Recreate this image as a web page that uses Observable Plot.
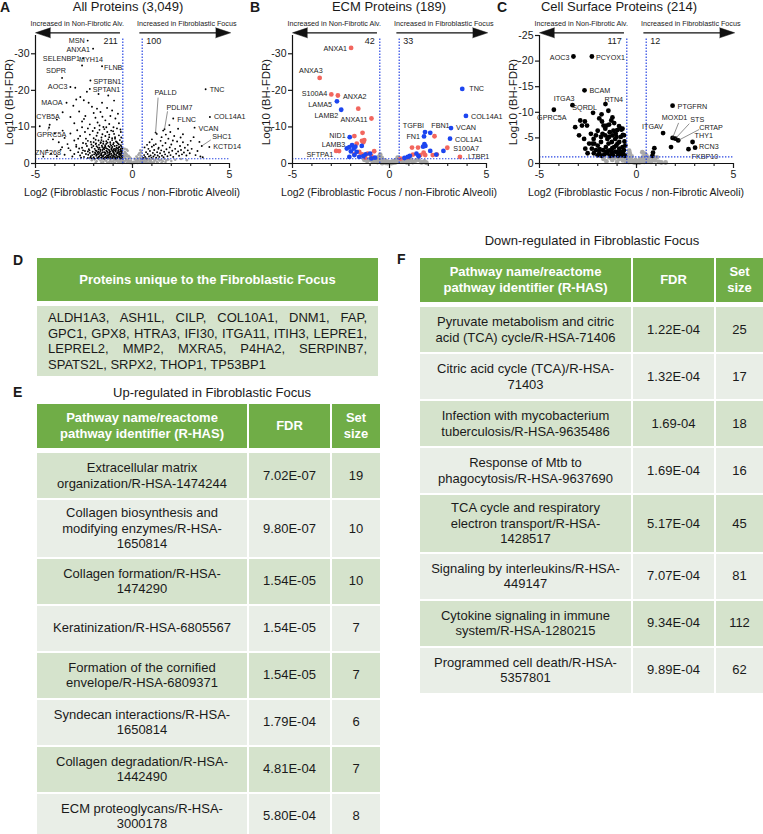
<!DOCTYPE html>
<html><head><meta charset="utf-8">
<script src="https://cdn.jsdelivr.net/npm/d3@7"></script>
<script src="https://cdn.jsdelivr.net/npm/@observablehq/plot@0.6"></script>
<style>
body{margin:0;background:#fff;font-family:"Liberation Sans",Arial,sans-serif;color:#1a1a1a}
#root{position:relative;width:763px;height:834px;overflow:hidden;background:#fff}
.abs{position:absolute;white-space:nowrap}
.letter{font-weight:bold;font-size:14px;line-height:14px}
.ptitle{font-size:13px;line-height:14px;transform:translateX(-50%)}
.ytitle{font-size:11.5px;transform:translate(-50%,-50%) rotate(-90deg)}
.xtitle{font-size:10.5px;transform:translate(-50%,-50%)}
.ttitle{font-size:13px;transform:translate(-50%,-50%)}
.grid{position:absolute;display:grid;column-gap:2px;row-gap:2px}
.cell{display:flex;align-items:center;justify-content:center;text-align:center;white-space:pre-line;box-sizing:border-box;font-size:13px;line-height:15.5px;padding:5px 3px;min-height:45px}
.hcell{background:#70AD47;color:#fff;font-weight:bold;line-height:16px;min-height:44px}
.dark{background:#D5E3CC}
.light{background:#E9EEE7}
</style></head>
<body><div id="root"></div>
<script>
// ---------------- DATA ----------------
const titleA = "All Proteins (3,049)";
const titleB = "ECM Proteins (189)";
const titleC = "Cell Surface Proteins (214)";
const xTitle = "Log2 (Fibroblastic Focus / non-Fibrotic Alveoli)";
const yTitle = "Log10 (BH-FDR)";
const arrowLeftText = "Increased in Non-Fibrotic Alv.";
const arrowRightText = "Increased in Fibroblastic Focus";
const countsA = [211, 100];
const countsB = [42, 33];
const countsC = [117, 12];
const yTicksAB = [0, -10, -20, -30];
const yTicksC = [0, -5, -10, -15, -20, -25];
const xTicks = [-5, 0, 5];
const fcCut = 0.5;
const fdrCut = -1.3;

// Panel A
const aLabeled = [["MSN",-2.31,-33.6],["ANXA1",-2.03,-31.4],["SELENBP1",-2.55,-28.8],["MYH14",-2.6,-26.8],["FLNB",-1.57,-26.6],["SDPR",-3.63,-23.4],["SPTBN1",-2.17,-22.7],["AOC3",-3.2,-20.9],["SPTAN1",-2.2,-20.4],["MAOA",-3.4,-16.6],["CYB5A",-4.78,-10.2],["GPRC5A",-4.27,-10.6],["ZNF268",-3.63,-4.45],["TNC",3.77,-20.3],["PALLD",1.19,-8.45],["PDLIM7",1.65,-9.35],["FLNC",2.1,-12.3],["COL14A1",3.99,-12.7],["VCAN",3.2,-9.8],["SHC1",3.57,-4.8],["KCTD14",3.96,-4.5]];
const aSig = [[-2.95,-20.7],[-2.69,-18.2],[-2.51,-17.3],[-2.26,-16.6],[-1.57,-16.6],[-2.09,-15.5],[-1.83,-15.0],[-1.31,-15.2],[-1.65,-14.1],[-1.05,-14.5],[-1.14,-13.0],[-1.91,-12.5],[-2.43,-13.0],[-3.2,-12.7],[-1.4,-11.8],[-0.88,-12.3],[-2.9,-17.5],[-3.05,-15.8],[-1.75,-19.0],[-2.35,-19.6],[-1.25,-18.6],[-0.95,-17.2],[-2.75,-14.2],[-3.6,-14.0],[-2.0,-13.8],[-1.55,-12.8],[-0.75,-13.6],[-2.6,-11.5],[-3.0,-11.0],[-1.2,-10.8],[-0.7,-11.0],[-2.2,-10.7],[-1.7,-10.4],[-3.9,-12.0],[-4.3,-9.8],
[-3.5,-7.0],[-3.8,-5.8],[-3.2,-8.2],[-3.0,-6.3],[-2.85,-9.1],[-2.7,-7.5],[-2.55,-5.6],[-2.45,-8.6],[-2.4,-6.8],[-2.3,-9.6],[-2.2,-7.9],[-2.15,-5.9],[-2.05,-8.9],[-2.0,-6.9],[-1.95,-9.7],[-1.9,-5.3],[-1.85,-7.6],[-1.8,-8.4],[-1.75,-6.3],[-1.7,-9.2],[-1.65,-5.6],[-1.6,-7.1],[-1.55,-8.0],[-1.5,-6.0],[-1.45,-9.4],[-1.4,-7.5],[-1.35,-5.4],[-1.3,-8.6],[-1.25,-6.6],[-1.2,-7.9],[-1.15,-5.8],[-1.1,-9.0],[-1.05,-6.9],[-1.0,-5.2],[-0.95,-8.1],[-0.9,-7.2],[-0.85,-6.0],[-0.8,-9.6],[-0.75,-5.5],[-0.7,-7.7],[-0.65,-6.4],[-0.6,-8.6],[-0.55,-5.8],[-2.9,-5.1],[-3.35,-5.3],[-4.1,-6.6],[-2.6,-9.9],[-1.5,-10.0],[-0.98,-9.9],
[-2.8,-3.1],[-2.7,-2.2],[-2.6,-4.3],[-2.5,-1.8],[-2.45,-3.4],[-2.4,-2.6],[-2.35,-4.8],[-2.3,-1.5],[-2.25,-3.9],[-2.2,-2.9],[-2.15,-2.0],[-2.1,-4.4],[-2.05,-3.2],[-2.0,-1.7],[-1.98,-2.5],[-1.95,-4.0],[-1.9,-3.6],[-1.87,-2.1],[-1.85,-4.7],[-1.82,-1.5],[-1.8,-3.0],[-1.77,-2.6],[-1.75,-3.9],[-1.72,-1.9],[-1.7,-4.3],[-1.67,-2.3],[-1.65,-3.4],[-1.62,-1.6],[-1.6,-2.8],[-1.58,-4.9],[-1.55,-3.7],[-1.52,-2.0],[-1.5,-4.1],[-1.48,-1.4],[-1.45,-3.1],[-1.42,-2.5],[-1.4,-4.6],[-1.38,-1.8],[-1.35,-3.5],[-1.32,-2.2],[-1.3,-4.0],[-1.28,-2.9],[-1.25,-1.6],[-1.22,-3.8],[-1.2,-2.4],[-1.18,-4.5],[-1.15,-3.2],[-1.12,-1.9],[-1.1,-2.7],[-1.08,-4.2],[-1.05,-3.5],[-1.02,-1.5],[-1.0,-2.2],[-0.98,-3.9],[-0.95,-2.8],[-0.92,-4.8],[-0.9,-1.7],[-0.88,-3.3],[-0.85,-2.5],[-0.82,-4.3],[-0.8,-1.5],[-0.78,-3.0],[-0.75,-2.0],[-0.72,-3.7],[-0.7,-2.6],[-0.68,-4.5],[-0.66,-1.6],[-0.64,-3.2],[-0.62,-2.3],[-0.6,-4.0],[-0.58,-1.9],[-0.56,-2.9],[-0.54,-3.6],[-0.53,-1.5],[-1.6,-2.2],[-1.4,-2.9],[-1.2,-3.0],[-1.0,-3.3],[-0.85,-3.9],[-0.7,-3.1],[-1.3,-1.7],[-1.1,-4.9],[-0.95,-2.0],[-1.75,-3.2],[-1.45,-4.4],[-0.65,-2.7],[-0.6,-3.4],[-0.75,-4.1],[-1.9,-2.7],[-2.3,-3.3],[-2.6,-2.9],[-3.2,-3.6],[-3.5,-2.4],[-3.1,-1.9],[-2.9,-4.6],[-3.7,-3.8],[-4.2,-2.7],
[-2.28,-2.4],[-2.22,-3.6],[-2.18,-1.6],[-2.12,-5.2],[-2.08,-2.3],[-2.02,-4.8],[-1.97,-1.4],[-1.93,-3.0],[-1.88,-5.5],[-1.84,-2.4],[-1.79,-4.4],[-1.76,-1.7],[-1.73,-5.1],[-1.69,-2.9],[-1.66,-3.8],[-1.63,-5.8],[-1.61,-2.5],[-1.59,-1.5],[-1.56,-4.5],[-1.53,-3.1],[-1.51,-5.4],[-1.49,-2.3],[-1.46,-3.9],[-1.44,-1.6],[-1.41,-5.0],[-1.39,-2.7],[-1.36,-4.2],[-1.34,-1.5],[-1.31,-3.3],[-1.29,-5.7],[-1.27,-2.1],[-1.24,-4.8],[-1.21,-1.8],[-1.19,-3.5],[-1.17,-2.6],[-1.14,-5.3],[-1.11,-1.5],[-1.09,-3.9],[-1.07,-2.3],[-1.04,-4.5],[-1.01,-1.8],[-0.99,-3.0],[-0.97,-5.6],[-0.94,-2.5],[-0.91,-4.0],[-0.89,-1.4],[-0.86,-3.5],[-0.84,-2.1],[-0.81,-4.9],[-0.79,-2.8],[-0.77,-1.6],[-0.74,-3.4],[-0.71,-4.4],[-0.69,-1.9],[-0.67,-2.4],[-0.63,-3.8],[-0.61,-1.4],[-0.59,-2.6],[-0.57,-4.6],[-0.55,-3.2],[-0.53,-2.1],[-0.52,-4.1],[-1.55,-1.9],[-1.25,-2.3],[-0.95,-3.6],[-0.7,-5.2],[-1.85,-3.4],[-1.35,-6.1],[-1.05,-6.4],[-0.8,-5.8],[-2.0,-5.8],[-2.4,-5.4],[-2.55,-3.6],[-2.65,-1.6],[-2.75,-4.1],[-3.0,-2.6],[-3.3,-4.2],[-3.9,-2.0],[-4.4,-3.6],[-4.6,-1.9],[-1.45,-1.35],[-1.15,-1.4],[-0.85,-1.38],[-0.65,-1.45],[-1.75,-1.45],[-2.1,-1.45],[-0.6,-5.0],[-0.9,-6.8],[-1.2,-7.2],[-1.6,-6.4],[-1.9,-6.5],[-2.3,-6.2],[-2.8,-6.8],[-3.6,-9.0],[-4.0,-8.2],[-1.35,-9.9],[-1.0,-8.8],[-0.58,-7.1],[-0.62,-9.3],[-2.5,-12.2],[-1.8,-11.2],
[0.55,-1.5],[0.6,-2.3],[0.65,-1.8],[0.7,-3.1],[0.72,-1.4],[0.78,-2.6],[0.82,-4.0],[0.85,-1.9],[0.9,-3.4],[0.93,-2.2],[0.98,-1.6],[1.0,-4.6],[1.05,-2.9],[1.08,-1.9],[1.12,-3.7],[1.15,-2.4],[1.2,-5.3],[1.22,-1.6],[1.27,-3.1],[1.3,-2.2],[1.35,-4.3],[1.38,-1.8],[1.42,-2.8],[1.45,-6.2],[1.48,-3.6],[1.52,-2.1],[1.55,-4.9],[1.6,-1.7],[1.63,-3.2],[1.68,-2.5],[1.7,-5.6],[1.75,-3.9],[1.8,-2.0],[1.85,-6.8],[1.88,-3.0],[1.92,-4.4],[1.96,-2.3],[2.0,-5.2],[2.05,-3.5],[2.1,-1.8],[2.15,-7.5],[2.2,-4.0],[2.25,-2.7],[2.3,-6.0],[2.35,-3.3],[2.4,-2.1],[2.45,-4.8],[2.5,-3.7],[2.55,-2.5],[2.6,-5.8],[2.65,-3.0],[2.7,-4.3],[2.78,-2.2],[2.85,-3.6],[2.95,-2.8],[3.05,-4.0],[3.15,-7.2],[3.25,-2.3],[3.35,-3.4],[3.5,-1.9],[3.62,-1.7],[1.9,-10.5],[1.5,-7.2],[2.6,-8.0],[1.0,-6.6],[0.75,-5.1],[1.25,-8.1],[2.35,-9.5],[3.0,-6.2],[2.85,-5.1],[1.72,-7.9],[0.62,-4.4],[0.88,-5.8],[1.33,-4.0],[2.08,-6.3],[1.58,-9.0],[1.1,-5.0],[2.48,-7.1],[1.95,-8.6],[3.45,-5.9]];
const aGrey = [[-2.1,-0.9],[-1.95,-1.1],[-1.85,-0.6],[-1.75,-1.2],[-1.65,-0.8],[-1.55,-1.1],[-1.5,-0.5],[-1.42,-1.0],[-1.35,-0.7],[-1.28,-1.2],[-1.2,-0.4],[-1.15,-0.9],[-1.08,-1.15],[-1.0,-0.6],[-0.95,-1.0],[-0.9,-0.3],[-0.85,-0.8],[-0.8,-1.2],[-0.75,-0.5],[-0.7,-1.0],[-0.66,-0.2],[-0.62,-0.7],[-0.58,-1.1],[-0.55,-0.4],[-0.5,-0.9],[-0.47,-1.3],[-0.45,-0.3],[-0.42,-0.6],[-0.4,-1.6],[-0.37,-2.2],[-0.35,-0.8],[-0.32,-1.1],[-0.3,-0.2],[-0.28,-1.9],[-0.25,-0.5],[-0.22,-0.9],[-0.2,-1.4],[-0.17,-0.3],[-0.15,-0.6],[-0.12,-0.15],[-0.1,-0.4],[-0.08,-0.8],[-0.05,-0.1],[-0.02,-0.3],[0.0,-0.05],[0.03,-0.2],[0.06,-0.5],[0.09,-0.15],[0.12,-0.35],[0.15,-0.7],[0.18,-0.25],[0.2,-1.0],[0.23,-0.45],[0.26,-0.15],[0.29,-0.8],[0.32,-1.2],[0.35,-0.4],[0.38,-1.6],[0.4,-0.6],[0.43,-0.95],[0.46,-0.3],[0.48,-1.4],[0.5,-0.7],[0.54,-1.1],[0.58,-0.4],[0.62,-0.85],[0.66,-1.2],[0.7,-0.5],[0.75,-0.9],[0.8,-0.25],[0.85,-1.1],[0.9,-0.6],[0.95,-0.95],[1.0,-0.35],[1.06,-1.2],[1.12,-0.7],[1.18,-1.0],[1.25,-0.45],[1.32,-1.15],[1.4,-0.8],[1.48,-1.05],[1.56,-0.6],[1.65,-1.2],[1.75,-0.9],[1.85,-1.1],[2.0,-0.7],[2.2,-1.0],[2.5,-1.2],[2.8,-0.9],
[-0.45,-2.6],[-0.4,-3.2],[-0.35,-2.9],[-0.3,-2.5],[-0.25,-3.5],[-0.2,-2.1],[-0.15,-1.8],[-0.4,-4.0],[-0.3,-3.8],[-0.1,-1.5],[0.1,-1.3],[0.2,-1.9],[0.3,-2.4],[0.35,-2.8],[0.42,-2.2],[0.45,-3.1],[-0.48,-2.0],[-0.42,-1.8],[0.25,-1.6],[0.4,-3.6],
[-1.9,-0.3],[-1.6,-0.3],[-1.3,-0.2],[-1.1,-0.5],[-0.98,-0.2],[-0.88,-1.05],[-0.78,-0.65],[-0.68,-0.45],[-0.6,-1.25],[-0.52,-0.15],[0.55,-0.2],[0.68,-0.3],[0.78,-1.25],[0.92,-0.2],[1.1,-0.2],[1.3,-0.3],[1.5,-0.2],[1.7,-0.4]];

// Panel B
const bRedLabeled = [["ANXA1",-1.98,-31.6],["ANXA3",-3.6,-23.4],["S100A4",-3.0,-18.9],["ANXA2",-2.66,-18.6],["ANXA11",-0.93,-12.3],["SFTPA1",-2.75,-3.45],["S100A7",2.98,-4.3],["LTBP1",3.63,-1.8]];
const bBlueLabeled = [["LAMA5",-2.71,-17.0],["LAMB2",-2.49,-14.7],["NID1",-2.05,-7.2],["LAMB3",-2.07,-4.5],["TNC",3.75,-20.4],["COL14A1",3.94,-13.0],["VCAN",3.17,-9.7],["COL1A1",3.12,-6.8],["FBN1",2.1,-8.4],["TGFBI",1.83,-8.6],["FN1",1.78,-7.4]];
const bRed = [[-1.61,-15.0],[-1.81,-7.5],[-1.39,-8.4],[-1.35,-5.8],[-1.42,-6.2],[-1.3,-6.4],[-2.6,-3.4],[-1.69,-5.45],[-0.79,-3.35],[-1.13,-2.7],[-1.56,-3.2],[-1.81,-2.5],[-1.42,-2.5],[-0.94,-2.1],[-1.25,-1.6],[2.32,-7.45],[1.16,-4.36],[1.47,-4.36],[2.44,-2.45],[1.59,-2.3],[1.84,-2.3],[2.23,-2.3],[1.21,-2.45],[0.57,-1.36],[1.76,-3.0],[0.95,-1.7]];
const bBlue = [[-1.93,-5.0],[-1.84,-4.1],[-1.76,-4.6],[-1.99,-3.3],[-1.69,-3.2],[-1.43,-4.8],[-2.07,-1.8],[-1.81,-2.3],[-1.23,-2.5],[-1.56,-1.8],[-0.94,-1.4],[-0.75,-1.6],[-1.0,-2.7],[-1.35,-2.0],[-2.2,-4.1],[1.8,-5.3],[1.85,-4.8],[1.73,-4.6],[2.78,-3.45],[2.1,-3.45],[2.41,-2.45],[1.39,-2.7],[1.05,-2.1],[0.94,-1.8],[1.5,-2.0],[0.77,-1.5]];
const bGrey = [[-1.3,-1.0],[-1.15,-0.7],[-1.05,-1.2],[-0.95,-0.9],[-0.85,-0.5],[-0.78,-1.1],[-0.7,-0.8],[-0.62,-0.4],[-0.55,-1.2],[-0.5,-2.0],[-0.45,-0.7],[-0.4,-1.5],[-0.35,-0.3],[-0.3,-0.9],[-0.25,-0.5],[-0.2,-0.2],[-0.15,-0.6],[-0.1,-0.1],[-0.05,-0.35],[0.0,-0.15],[0.05,-0.4],[0.1,-0.1],[0.15,-0.5],[0.2,-0.25],[0.25,-0.7],[0.3,-0.3],[0.35,-0.9],[0.4,-0.5],[0.45,-1.2],[0.5,-0.7],[0.6,-1.0],[0.7,-0.5],[0.8,-0.9],[0.9,-0.3],[1.0,-0.7],[1.1,-1.1],[1.2,-0.4],[1.35,-0.8],[1.5,-1.0],[1.65,-0.3],[1.8,-0.6],[1.9,-0.2],[-0.6,-1.6],[-0.48,-2.4],[-0.38,-0.1],[0.42,-1.6]];

// Panel C
const cLabeled = [["AOC3",-3.25,-20.9],["PCYOX1",-2.3,-20.9],["BCAM",-2.68,-14.3],["RTN4",-1.6,-11.6],["ITGA3",-3.3,-11.4],["SQRDL",-2.24,-9.9],["GPRC5A",-4.26,-10.5],["PTGFRN",1.86,-11.3],["ITGAV",1.37,-5.94],["MOXD1",1.86,-5.0],["STS",2.0,-4.85],["CRTAP",2.15,-4.5],["THY1",2.89,-4.2],["RCN3",3.02,-3.1],["FKBP10",2.68,-2.8]];
const cSig = [[-2.9,-8.4],[-2.66,-8.2],[-2.81,-7.4],[-2.55,-7.4],[-3.16,-7.1],[-2.96,-5.5],[-2.7,-4.8],[-2.64,-2.9],[-2.52,-2.0],[-2.35,-5.8],[-2.21,-4.8],[-2.09,-5.5],[-2.0,-6.4],[-1.92,-8.8],[-1.78,-8.2],[-1.7,-7.4],[-1.61,-6.8],[-1.54,-7.4],[-1.41,-7.6],[-1.24,-9.0],[-1.19,-6.4],[-1.38,-6.1],[-1.5,-4.8],[-1.83,-4.2],[-2.0,-3.5],[-2.18,-3.9],[-2.3,-2.9],[-2.09,-2.6],[-1.92,-2.0],[-1.72,-2.6],[-1.58,-3.2],[-1.44,-3.9],[-1.27,-4.2],[-1.1,-4.8],[-1.07,-5.8],[-0.98,-3.9],[-0.89,-2.9],[-0.81,-2.3],[-0.72,-3.2],[-0.69,-2.0],[-1.1,-2.3],[-1.27,-2.1],[-1.15,-3.2],[-1.32,-2.6],[-1.5,-2.0],[-1.66,-1.8],[-0.89,-4.2],[-1.03,-5.2],[-0.81,-5.2],[-1.24,-5.5],[-1.41,-5.2],[-1.61,-5.5],[-1.75,-5.8],[-1.83,-5.2],[-2.27,-3.9],[-2.44,-3.9],[-0.6,-1.5],[-0.65,-2.6],[-0.75,-1.6],[-0.85,-1.8],[-0.95,-1.5],[-1.0,-2.2],[-1.2,-1.6],[-1.35,-1.5],[-1.45,-2.5],[-1.8,-1.5],[-2.0,-1.6],[-0.58,-3.5],[-0.62,-4.3],[-0.7,-5.6],[-0.78,-6.6],[-0.9,-7.3],[-1.0,-6.5],[-1.15,-7.9],[-1.3,-8.4],[-1.05,-3.5],[-1.25,-3.0],[-1.55,-2.3],[-1.9,-2.8],[-2.2,-2.0],[-1.8,-9.6],[-1.45,-10.3],[-0.72,-6.8],[-0.85,-6.9],[-0.64,-5.5],
[1.78,-3.2],[0.92,-3.0],[0.85,-2.1],[0.82,-1.5]];
const cGrey = [[-1.7,-0.9],[-1.55,-0.4],[-1.4,-1.2],[-1.25,-0.7],[-1.12,-1.1],[-1.0,-0.3],[-0.9,-0.9],[-0.8,-1.25],[-0.7,-0.6],[-0.62,-1.0],[-0.55,-0.4],[-0.5,-1.6],[-0.45,-1.1],[-0.4,-0.3],[-0.35,-2.0],[-0.3,-0.8],[-0.25,-1.4],[-0.2,-0.5],[-0.12,-0.2],[-0.05,-0.7],[0.0,-0.1],[0.08,-0.4],[0.15,-0.2],[0.2,-0.9],[0.28,-0.5],[0.35,-1.3],[0.4,-0.3],[0.45,-0.8],[0.5,-1.6],[0.58,-0.5],[0.65,-1.1],[0.75,-0.3],[0.85,-0.9],[0.95,-0.6],[1.05,-1.2],[1.15,-0.3],[1.28,-0.2],[1.5,-0.2],[0.3,-2.2],[-0.38,-2.5],[0.42,-1.9]];

// Tables
const uniqueProteins = ["ALDH1A3","ASH1L","CILP","COL10A1","DNM1","FAP","GPC1","GPX8","HTRA3","IFI30","ITGA11","ITIH3","LEPRE1","LEPREL2","MMP2","MXRA5","P4HA2","SERPINB7","SPATS2L","SRPX2","THOP1","TP53BP1"];
const uniqueTitle = "Proteins unique to the Fibroblastic Focus";
const tableHeader = ["Pathway name/reactome\npathway identifier (R-HAS)", "FDR", "Set\nsize"];
const upTitle = "Up-regulated in Fibroblastic Focus";
const upPathways = ["Extracellular matrix\norganization/R-HSA-1474244","Collagen biosynthesis and\nmodifying enzymes/R-HSA-\n1650814","Collagen formation/R-HSA-\n1474290","Keratinization/R-HSA-6805567","Formation of the cornified\nenvelope/R-HSA-6809371","Syndecan interactions/R-HSA-\n1650814","Collagen degradation/R-HSA-\n1442490","ECM proteoglycans/R-HSA-\n3000178"];
const upFDR = ["7.02E-07","9.80E-07","1.54E-05","1.54E-05","1.54E-05","1.79E-04","4.81E-04","5.80E-04"];
const upSize = ["19","10","10","7","7","6","7","8"];
const downTitle = "Down-regulated in Fibroblastic Focus";
const downPathways = ["Pyruvate metabolism and citric\nacid (TCA) cycle/R-HSA-71406","Citric acid cycle (TCA)/R-HSA-\n71403","Infection with mycobacterium\ntuberculosis/R-HSA-9635486","Response of Mtb to\nphagocytosis/R-HSA-9637690","TCA cycle and respiratory\nelectron transport/R-HSA-\n1428517","Signaling by interleukins/R-HSA-\n449147","Cytokine signaling in immune\nsystem/R-HSA-1280215","Programmed cell death/R-HSA-\n5357801"];
const downFDR = ["1.22E-04","1.32E-04","1.69-04","1.69E-04","5.17E-04","7.07E-04","9.34E-04","9.89E-04"];
const downSize = ["25","17","18","16","45","81","112","62"];

// ---------------- LAYOUT / STYLE ----------------
const FONT = '"Liberation Sans", Arial, sans-serif';
const W = 254, H = 200, ML = 35, MR = 25, MT = 35, MB = 37;
const RED = "#F2665E", BLUE = "#1C45F0", DOTBLUE = "#2a47e4";
// label placement: [anchor, dx, dy, leaderEndDx, leaderEndDy] (pixels)
const layoutA = {MSN:["end",-3,0],ANXA1:["end",-3,1],SELENBP1:["end",-3,1],MYH14:["start",-3,-6],FLNB:["start",2,1],SDPR:["end",4,-7],SPTBN1:["start",3,1],AOC3:["end",-3,0],SPTAN1:["start",3,1],MAOA:["end",-4,0],CYB5A:["start",-3.5,-9.5],GPRC5A:["start",-13,10,-2,6],ZNF268:["end",-1,5],TNC:["start",4,0],PALLD:["middle",10,-40,2.5,-35],PDLIM7:["middle",15,-22,3,-18],FLNC:["start",4,1],COL14A1:["start",4,0],VCAN:["start",4,1],SHC1:["start",10.5,-9,9,-6],KCTD14:["start",4,0]};
const layoutB = {ANXA1:["end",-4,1],ANXA3:["end",3,-7],S100A4:["end",-4,-1],ANXA2:["start",5,1],ANXA11:["end",-4,1],SFTPA1:["end",-3,4],S100A7:["start",6,1],LTBP1:["start",8,0],LAMA5:["end",-5,3],LAMB2:["end",-3,6],NID1:["end",-4,-1],LAMB3:["end",-4,-2],TNC:["start",7,0],COL14A1:["start",5,1],VCAN:["start",5,0],COL1A1:["start",5,1],FBN1:["start",1,-7],TGFBI:["end",-1,-6],FN1:["end",-4,0]};
const layoutC = {AOC3:["end",-4,1],PCYOX1:["start",4,1],BCAM:["start",5,0],RTN4:["start",-1,-4.5],ITGA3:["end",2,-6],SQRDL:["end",4,-5],GPRC5A:["middle",-2,8],PTGFRN:["start",5,1],ITGAV:["end",0,-6],MOXD1:["middle",2,-20,6,-15],STS:["start",15,-19,14,-15],CRTAP:["start",21,-13,21,-11],THY1:["start",2,-6],RCN3:["start",4,-0.5],FKBP10:["start",3,7.5]};

function volcano(p) {
  const kx = (W - ML - MR) / 10, ky = (H - MT - MB) / (-p.yMax);
  const up = px => p.yMax - px / ky;
  const toObj = d => ({x: d[0], y: d[1]});
  const marks = [];
  for (const g of p.groups) marks.push(Plot.dot(g.data.map(toObj), {x: "x", y: "y", r: g.r, fill: g.fill, stroke: "none"}));
  for (const g of p.labeledGroups) {
    const objs = g.data.map(([name, x, y]) => ({name, x, y}));
    marks.push(Plot.dot(objs, {x: "x", y: "y", r: g.r, fill: g.fill, stroke: "none"}));
    for (const o of objs) {
      const L = p.layout[o.name];
      marks.push(Plot.text([o], {x: "x", y: "y", text: "name", textAnchor: L[0], dx: L[1], dy: L[2], fontSize: 7.2, fill: "#1a1a1a"}));
      if (L.length > 3) marks.push(Plot.link([o], {x1: "x", y1: "y", x2: d => d.x + L[3] / kx, y2: d => d.y + L[4] / ky, stroke: "#444", strokeWidth: 0.6}));
    }
  }
  // threshold lines
  marks.push(Plot.ruleX([-fcCut, fcCut], {y1: 0, y2: p.yMax + 2 / ky, stroke: DOTBLUE, strokeWidth: 1.2, strokeDasharray: "1.4,1.6"}));
  marks.push(Plot.ruleY([fdrCut], {x1: -5, x2: 5, stroke: DOTBLUE, strokeWidth: 1.2, strokeDasharray: "1.4,1.6"}));
  // axes
  marks.push(Plot.ruleY([0], {stroke: "#111", strokeWidth: 1.2}));
  marks.push(Plot.ruleX([-5], {y1: 0, y2: p.yMax, stroke: "#111", strokeWidth: 1.2}));
  marks.push(Plot.axisX({ticks: d3.range(-4, 5).filter(d => d !== 0), tickSize: 3, tickFormat: () => "", label: null, strokeWidth: 1.1}));
  marks.push(Plot.axisX({ticks: xTicks, tickSize: 5, tickPadding: 2, tickFormat: d => String(d), label: null, fontSize: 10.5, strokeWidth: 1.2}));
  marks.push(Plot.axisY({ticks: p.yTicks, tickSize: 4, tickPadding: 2, tickFormat: d => String(d), label: null, fontSize: 10.5, strokeWidth: 1.2}));
  // counts
  marks.push(Plot.text([{x: -fcCut, y: up(-5.5), t: String(p.counts[0])}], {x: "x", y: "y", text: "t", textAnchor: "end", dx: -5, fontSize: 9, fill: "#1a1a1a"}));
  marks.push(Plot.text([{x: fcCut, y: up(-5.5), t: String(p.counts[1])}], {x: "x", y: "y", text: "t", textAnchor: "start", dx: 4, fontSize: 9, fill: "#1a1a1a"}));
  // direction arrows
  const ya = up(2.7);
  marks.push(Plot.ruleY([{y: ya}], {y: "y", x1: -4.5, x2: -0.62, stroke: "#111", strokeWidth: 1.3}));
  marks.push(Plot.ruleY([{y: ya}], {y: "y", x1: 0.38, x2: 4.6, stroke: "#111", strokeWidth: 1.3}));
  marks.push(Plot.vector([{x: -5, y: ya}], {x: "x", y: "y", rotate: -90, length: 15, r: 5, shape: "spike", anchor: "end", fill: "#111", stroke: "#111", strokeWidth: 0.5}));
  marks.push(Plot.vector([{x: 5.06, y: ya}], {x: "x", y: "y", rotate: 90, length: 15, r: 5, shape: "spike", anchor: "end", fill: "#111", stroke: "#111", strokeWidth: 0.5}));
  marks.push(Plot.text([{x: -2.85, y: up(11.5), t: arrowLeftText}], {x: "x", y: "y", text: "t", fontSize: 7.2, fill: "#1a1a1a"}));
  marks.push(Plot.text([{x: 2.8, y: up(11.5), t: arrowRightText}], {x: "x", y: "y", text: "t", fontSize: 7.2, fill: "#1a1a1a"}));
  return Plot.plot({
    width: W, height: H, marginLeft: ML, marginRight: MR, marginTop: MT, marginBottom: MB,
    x: {domain: [-5, 5]}, y: {domain: [0, p.yMax]},
    style: {fontFamily: FONT, background: "none", overflow: "visible", color: "#1a1a1a"},
    marks
  });
}

const root = document.getElementById("root");
function addDiv(cls, text, css) {
  const d = document.createElement("div");
  d.className = "abs " + cls;
  d.textContent = text;
  Object.assign(d.style, css);
  root.appendChild(d);
  return d;
}

const panels = [
  {letter: "A", letterX: 0, left: 0, title: titleA, titleX: 128, yMax: -35, yTicks: yTicksAB, counts: countsA, layout: layoutA,
   groups: [{data: aGrey, r: 1.25, fill: "#a3a3a3"}, {data: aSig, r: 0.95, fill: "#000"}],
   labeledGroups: [{data: aLabeled, r: 0.95, fill: "#000"}]},
  {letter: "B", letterX: 250, left: 257, title: titleB, titleX: 389, yMax: -35, yTicks: yTicksAB, counts: countsB, layout: layoutB,
   groups: [{data: bGrey, r: 2.4, fill: "#a6a6a6"}, {data: bRed, r: 2.4, fill: RED}, {data: bBlue, r: 2.4, fill: BLUE}],
   labeledGroups: [{data: bRedLabeled, r: 2.4, fill: RED}, {data: bBlueLabeled, r: 2.4, fill: BLUE}]},
  {letter: "C", letterX: 497, left: 504, title: titleC, titleX: 619, yMax: -25, yTicks: yTicksC, counts: countsC, layout: layoutC,
   groups: [{data: cGrey, r: 2.4, fill: "#a9a9a9"}, {data: cSig, r: 2.4, fill: "#000"}],
   labeledGroups: [{data: cLabeled, r: 2.4, fill: "#000"}]}
];

for (const p of panels) {
  const holder = document.createElement("div");
  holder.className = "abs";
  Object.assign(holder.style, {left: p.left + "px", top: "0px", width: W + "px", height: H + "px"});
  holder.appendChild(volcano(p));
  root.appendChild(holder);
  addDiv("letter", p.letter, {left: p.letterX + "px", top: "0px"});
  addDiv("ptitle", p.title, {left: p.titleX + "px", top: "0px"});
  addDiv("ytitle", yTitle, {left: (p.left + ML - 26) + "px", top: "102px"});
  addDiv("xtitle", xTitle, {left: (p.left + ML + (W - ML - MR) / 2) + "px", top: "192px"});
}

// ---------- Tables ----------
addDiv("letter", "D", {left: "13px", top: "253px"});
addDiv("letter", "E", {left: "13px", top: "385px"});
addDiv("letter", "F", {left: "397px", top: "252px"});
addDiv("ttitle", upTitle, {left: "212px", top: "392px"});
addDiv("ttitle", downTitle, {left: "592px", top: "240px"});

function grid(left, top, cols) {
  const g = document.createElement("div");
  g.className = "grid";
  Object.assign(g.style, {left: left + "px", top: top + "px", gridTemplateColumns: cols.map(c => c + "px").join(" ")});
  root.appendChild(g);
  return g;
}
function cell(g, text, cls, css) {
  const c = document.createElement("div");
  c.className = "cell " + cls;
  c.textContent = text;
  if (css) Object.assign(c.style, css);
  g.appendChild(c);
}

// D
const gDh = grid(37, 258, [341]);
cell(gDh, uniqueTitle, "hcell", {minHeight: "43px"});
const gDb = grid(37, 306, [341]);
const dBody = document.createElement("div");
dBody.className = "dark";
Object.assign(dBody.style, {boxSizing: "border-box", height: "70px", padding: "4px 11px 0 11px", fontSize: "13px", lineHeight: "15.6px"});
const lineSizes = [6, 7, 5, 4];
let k = 0;
lineSizes.forEach((n, i) => {
  const items = uniqueProteins.slice(k, k + n); k += n;
  const line = document.createElement("div");
  line.textContent = items.join(", ") + (i < lineSizes.length - 1 ? "," : "");
  Object.assign(line.style, {textAlign: "justify", textAlignLast: i < lineSizes.length - 1 ? "justify" : "left", whiteSpace: "normal"});
  dBody.appendChild(line);
});
gDb.appendChild(dBody);

function pathwayTable(left, top, cols, names, fdrs, sizes) {
  const gh = grid(left, top, cols);
  tableHeader.forEach(h => cell(gh, h, "hcell"));
  const gb = grid(left, top + 49, cols);
  names.forEach((n, i) => {
    const cls = i % 2 === 0 ? "dark" : "light";
    cell(gb, n, cls);
    cell(gb, fdrs[i], cls);
    cell(gb, sizes[i], cls);
  });
}
pathwayTable(37, 404, [210, 81, 48], upPathways, upFDR, upSize);
pathwayTable(420, 258, [211, 81, 47], downPathways, downFDR, downSize);
</script>
</body></html>
